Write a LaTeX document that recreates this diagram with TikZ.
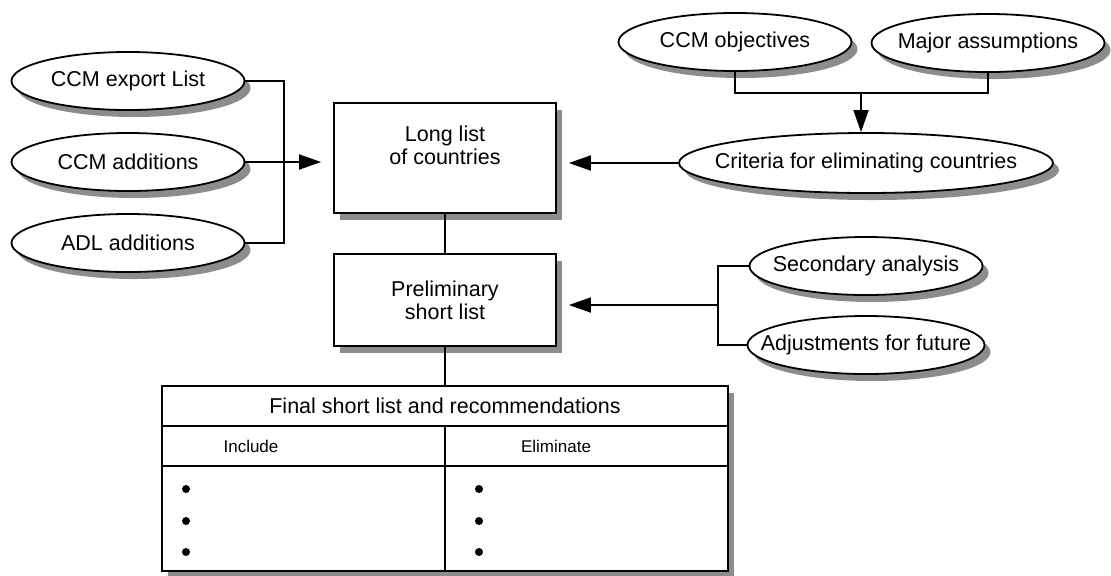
\documentclass[tikz,border=0pt]{standalone}
\usepackage{fontspec}
\setmainfont{Liberation Sans}
\usetikzlibrary{shapes.geometric,shadows,arrows.meta,positioning}

\begin{document}
\begin{tikzpicture}[x=0.5pt,y=-0.5pt,line width=0.9pt,
  font=\fontsize{10.75}{11.5}\selectfont,
  grayshadow/.style={drop shadow={shadow xshift=3pt,shadow yshift=-3.5pt,fill=black!45,opacity=1}},
  oval/.style={ellipse,draw,fill=white,grayshadow,minimum width=116.5pt,minimum height=29pt,inner xsep=-15pt,inner ysep=0pt},
  box/.style={rectangle,draw,fill=white,grayshadow,minimum width=111pt,align=center},
  small/.style={font=\fontsize{8.5}{10}\selectfont},
  arr/.style={-{Triangle[length=11pt,width=7.5pt]},shorten >=6pt}]
\useasboundingbox (0,0) rectangle (1111,575);

\node[oval] (exportlist) at (128,81) {CCM export List};
\node[oval] (ccmadd) at (128,162) {CCM additions};
\node[oval] (adladd) at (128,243) {ADL additions};
\node[oval] (objectives) at (735,42) {CCM objectives};
\node[oval] (assumptions) at (988,43) {Major assumptions};
\node[oval,minimum width=187pt,minimum height=30pt] (criteria) at (866,163) {Criteria for eliminating countries};
\node[oval] (secondary) at (866,266) {Secondary analysis};
\node[oval,minimum width=118.5pt] (adjust) at (866,345) {Adjustments for future};

\node[box,minimum height=55pt] (longlist) at (445,158) {};
\node[below=8pt of longlist.north,align=center] (longtext) {Long list\\of countries};
\node[box,minimum height=46pt] (prelim) at (445,300) {Preliminary\\short list};

\node[rectangle,draw,fill=white,grayshadow,minimum width=283pt,minimum height=92.5pt] (final) at (445,478.5) {};
\draw (162,426) -- (728,426);
\draw (162,466) -- (728,466);
\draw (445,426) -- (445,571);
\node (finaltitle) at (445,406) {Final short list and recommendations};
\node[small] (include) at (251,446) {Include};
\node[small] (eliminate) at (556,446) {Eliminate};
\foreach \y in {489,521,552} {
  \fill (186,\y) circle (2pt);
  \fill (479,\y) circle (2pt);
}

\coordinate (lj) at (284,162);
\draw (exportlist.east) -| (lj) |- (adladd.east);
\draw[arr] (ccmadd.east) -- (ccmadd.east -| longlist.west);
\coordinate (tj) at (861,93);
\draw (objectives.south) |- (tj) -| (assumptions.south);
\draw[arr,shorten >=0pt] (tj) -- (tj |- criteria.north);
\draw[arr] (criteria.west) -- (criteria.west -| longlist.east);
\coordinate (rj) at (718,305);
\draw (secondary.west) -| (rj) |- (adjust.west);
\draw[arr] (rj) -- (rj -| prelim.east);
\draw (longlist) -- (prelim);
\draw (prelim) -- (final);
\end{tikzpicture}
\end{document}
